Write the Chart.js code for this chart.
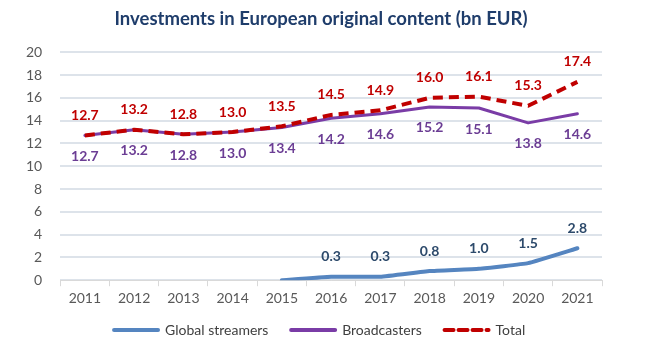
<!DOCTYPE html>
<html>
<head>
<meta charset="utf-8">
<script src="https://cdn.jsdelivr.net/npm/chart.js@4"></script>
<style>
  html, body { margin: 0; padding: 0; background: #fff; }
  #wrap { width: 655px; height: 351px; }
</style>
</head>
<body>
<div id="wrap"><canvas id="investChart"></canvas></div>
<script>
const years = ['2011', '2012', '2013', '2014', '2015', '2016', '2017', '2018', '2019', '2020', '2021'];
const streamers = [null, null, null, null, 0, 0.3, 0.3, 0.8, 1.0, 1.5, 2.8];
const broadcasters = [12.7, 13.2, 12.8, 13.0, 13.4, 14.2, 14.6, 15.2, 15.1, 13.8, 14.6];
const totals = [12.7, 13.2, 12.8, 13.0, 13.5, 14.5, 14.9, 16.0, 16.1, 15.3, 17.4];

// value labels: above or below each point
const valueLabels = {
  id: 'valueLabels',
  afterDatasetsDraw(chart) {
    const ctx = chart.ctx;
    ctx.save();
    ctx.font = 'bold 14px Lato';
    ctx.textAlign = 'center';
    ctx.textBaseline = 'middle';
    chart.data.datasets.forEach((ds, i) => {
      const meta = chart.getDatasetMeta(i);
      meta.data.forEach((pt, j) => {
        const v = ds.data[j];
        if (v === null || v === 0) return;
        const dy = ds.labelPos === 'below' ? 21 : -20;
        ctx.fillStyle = ds.labelColor;
        ctx.fillText(v.toFixed(1), pt.x, pt.y + dy);
      });
    });
    ctx.restore();
  }
};

// title and legend sit a bit right of the canvas centre in the original
const nudgeBlocks = {
  id: 'nudgeBlocks',
  afterLayout(chart) {
    chart.titleBlock.left += 16;
    chart.titleBlock.right += 16;
    chart.legend.left += 20;
    chart.legend.right += 20;
  }
};

const config = {
  type: 'line',
  data: {
    labels: years,
    datasets: [
      {
        label: 'Global streamers',
        data: streamers,
        borderColor: '#5585c0',
        borderWidth: 4,
        borderCapStyle: 'round',
        borderJoinStyle: 'round',
        pointRadius: 0,
        tension: 0.1,
        labelColor: '#2d4a6b',
        labelPos: 'above',
        order: 2,
      },
      {
        label: 'Broadcasters',
        data: broadcasters,
        borderColor: '#7a3ca6',
        borderWidth: 3,
        borderCapStyle: 'round',
        borderJoinStyle: 'round',
        pointRadius: 0,
        tension: 0,
        labelColor: '#6b3d94',
        labelPos: 'below',
        order: 1,
      },
      {
        label: 'Total',
        data: totals,
        borderColor: '#c00000',
        borderWidth: 4,
        borderDash: [10, 6],
        borderJoinStyle: 'round',
        pointRadius: 0,
        tension: 0,
        labelColor: '#c00000',
        labelPos: 'above',
        order: 0,
      }
    ]
  },
  options: {
    responsive: true,
    maintainAspectRatio: false,
    animation: false,
    layout: {
      padding: { left: 8, right: 53, top: 0, bottom: 4 }
    },
    plugins: {
      title: {
        display: true,
        text: 'Investments in European original content (bn EUR)',
        color: '#1f3d6b',
        font: { family: 'Lato', size: 18.5, weight: 'bold' },
        padding: { top: 8, bottom: 22 },
      },
      legend: {
        position: 'bottom',
        labels: {
          usePointStyle: true,
          pointStyle: 'line',
          pointStyleWidth: 44,
          color: '#404040',
          font: { family: 'Lato', size: 14 },
          padding: 12,
          sort: (a, b) => a.datasetIndex - b.datasetIndex,
          generateLabels(chart) {
            const items = Chart.defaults.plugins.legend.labels.generateLabels(chart);
            items.forEach(item => {
              const ds = chart.data.datasets[item.datasetIndex];
              item.lineDash = ds.borderDash ? [9, 5] : [];
              item.lineWidth = 4;
              item.lineCap = 'round';
              item.strokeStyle = ds.borderColor;
              item.text = item.text + '   ';
            });
            return items;
          }
        }
      },
      tooltip: { enabled: false }
    },
    scales: {
      x: {
        offset: true,
        grid: {
          offset: true,
          drawOnChartArea: false,
          tickLength: 6,
          color: '#d9d9d9',
        },
        border: { color: '#d9d9d9' },
        ticks: {
          color: '#595959',
          font: { family: 'Lato', size: 14 },
          padding: 4,
        }
      },
      y: {
        min: 0,
        max: 20,
        grid: {
          color: '#dde3ea',
          drawTicks: false,
          lineWidth: 2,
        },
        border: { display: false },
        ticks: {
          stepSize: 2,
          color: '#595959',
          font: { family: 'Lato', size: 14 },
          padding: 18,
        }
      }
    }
  },
  plugins: [valueLabels, nudgeBlocks]
};

const ctx = document.getElementById('investChart').getContext('2d');
new Chart(ctx, config);
</script>
</body>
</html>
